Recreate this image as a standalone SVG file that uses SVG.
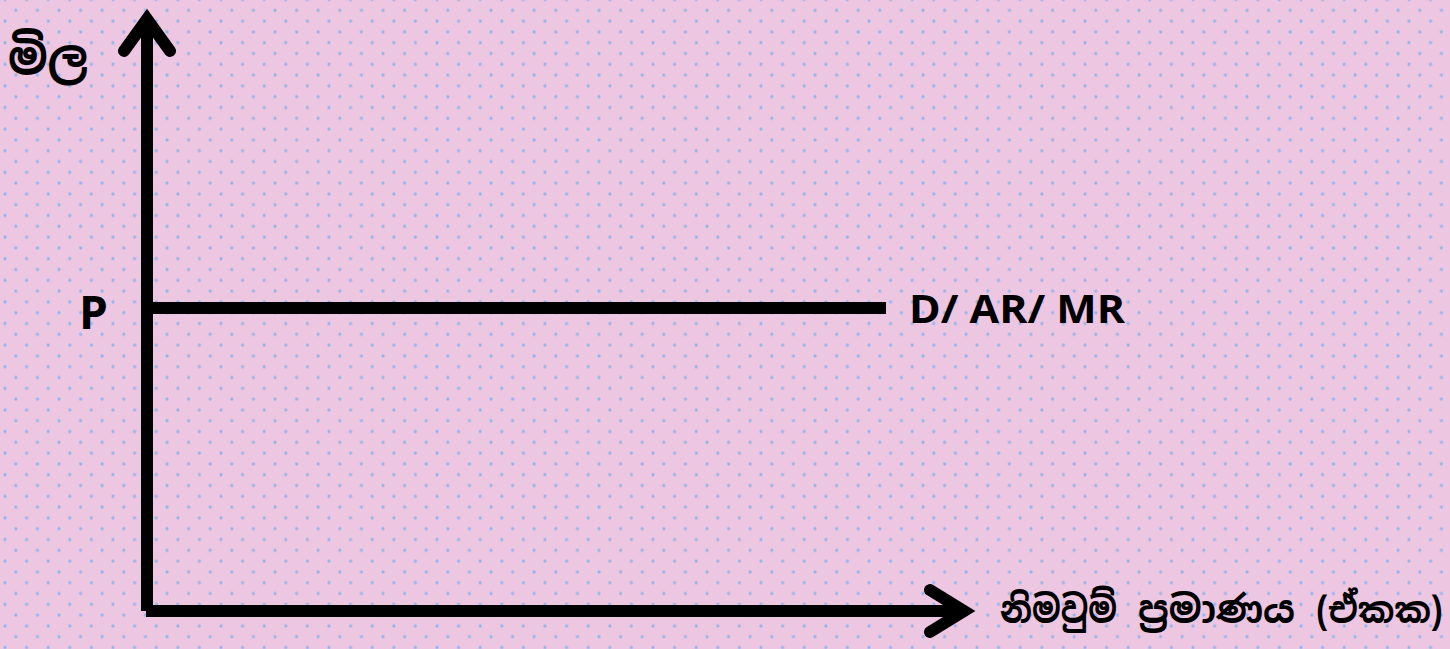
<svg xmlns="http://www.w3.org/2000/svg" width="1450" height="649" viewBox="0 0 1450 649">
  <defs>
    <!-- staggered dot grid on pink paper -->
    <pattern id="dots" x="5" y="-0.5" width="21.6" height="21.6" patternUnits="userSpaceOnUse">
      <circle cx="0" cy="0" r="1.6" fill="#94b4ea"/>
      <circle cx="21.6" cy="0" r="1.6" fill="#94b4ea"/>
      <circle cx="0" cy="21.6" r="1.6" fill="#94b4ea"/>
      <circle cx="21.6" cy="21.6" r="1.6" fill="#94b4ea"/>
      <circle cx="10.8" cy="10.8" r="1.6" fill="#94b4ea"/>
    </pattern>
    <style>
      .axis { stroke: #000; stroke-width: 12; fill: none; }
      .head { stroke: #000; stroke-width: 12; fill: none; stroke-linecap: round; stroke-linejoin: miter; }
      .lbl { font-family: "Open Sans", "Liberation Sans", sans-serif; font-weight: bold; fill: #000; }
      .si { font-family: "Noto Sans Sinhala", "Noto Sans", "DejaVu Sans", sans-serif; font-weight: bold; fill: #000; }
    </style>
  </defs>

  <rect width="1450" height="649" fill="#edc6e1"/>
  <rect width="1450" height="649" fill="url(#dots)"/>

  <g id="connectors">
    <!-- price axis -->
    <line class="axis" x1="147" y1="611" x2="147" y2="24"/>
    <polyline class="head" points="124,51 147,19 170,51"/>
    <!-- quantity axis -->
    <line class="axis" x1="146" y1="611" x2="960" y2="611"/>
    <polyline class="head" points="930,590 964,611 930,632"/>
    <!-- demand curve -->
    <line class="axis" x1="153" y1="308" x2="886" y2="308"/>
  </g>

  <g id="label-price">
    <text class="si" x="8" y="74" font-size="48" textLength="80" lengthAdjust="spacingAndGlyphs">මිල</text>
  </g>
  <g id="label-p">
    <text class="lbl" x="79" y="329" font-size="46">P</text>
  </g>
  <g id="label-demand">
    <text class="lbl" x="909" y="323" font-size="39" textLength="216" lengthAdjust="spacingAndGlyphs">D/ AR/ MR</text>
  </g>
  <g id="label-quantity">
    <text class="si" x="1000" y="623" font-size="38" textLength="117" lengthAdjust="spacingAndGlyphs">නිමවුම්</text>
    <text class="si" x="1138" y="623" font-size="38" textLength="157" lengthAdjust="spacingAndGlyphs">ප්‍රමාණය</text>
    <text class="si" x="1443" y="623" font-size="36" text-anchor="end" textLength="127" lengthAdjust="spacingAndGlyphs">(ඒකක)</text>
  </g>
</svg>
